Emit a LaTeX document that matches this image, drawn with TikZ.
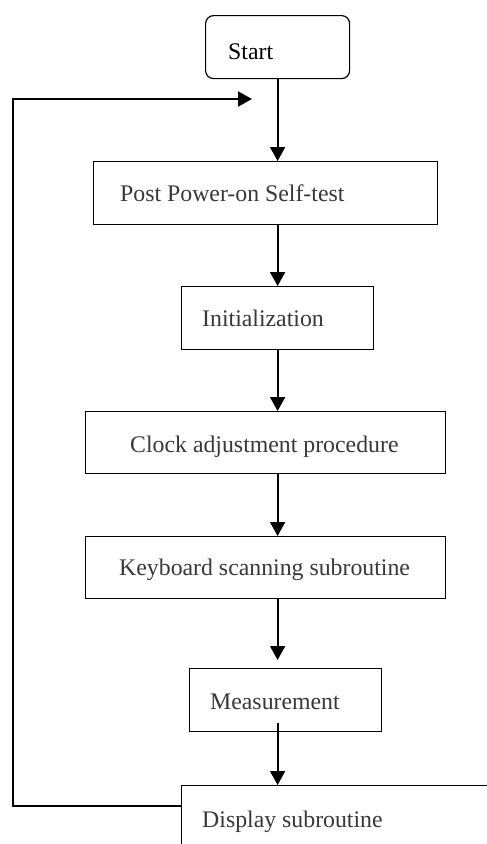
\documentclass[tikz,border=0pt]{standalone}
\usepackage{fontspec}
\setmainfont{Liberation Serif}
\usetikzlibrary{arrows.meta,calc}
\begin{document}
\begin{tikzpicture}[x=1pt,y=-1pt,
  box/.style={draw,line width=1.2pt,inner sep=0pt,anchor=north west},
  lbl/.style={inner sep=0pt,anchor=base west,font=\fontsize{23.8}{26}\selectfont,text=black!78},
  flow/.style={line width=2pt,-{Triangle[width=15pt,length=14pt]}}]
\useasboundingbox (0,0) rectangle (487,844);
\clip (0,0) rectangle (487,844);
% boxes
\node[box,rounded corners=8pt,minimum width=144pt,minimum height=63pt] (start) at (205,15) {};
\node[box,minimum width=344pt,minimum height=63pt] (pp) at (93,161) {};
\node[box,minimum width=192pt,minimum height=63pt] (init) at (181,286) {};
\node[box,minimum width=360pt,minimum height=62pt] (clock) at (85,411) {};
\node[box,minimum width=360pt,minimum height=62pt] (kb) at (85,536) {};
\node[box,minimum width=192pt,minimum height=63pt] (meas) at (189,668) {};
\node[box,minimum width=400pt,minimum height=120pt] (disp) at (181,785) {};
% labels
\node[lbl,text=black] (tstart) at (228,59) {Start};
\node[lbl] (tpp) at (120,201) {Post Power-on Self-test};
\node[lbl] (tinit) at (202,326) {Initialization};
\node[lbl] (tclock) at (130,452) {Clock adjustment procedure};
\node[lbl] (tkb) at (119,575) {Keyboard scanning subroutine};
\node[lbl] (tmeas) at (210,709) {Measurement};
\node[lbl] (tdisp) at (202,827) {Display subroutine};
% connectors
\draw[flow] (start.south) -- (pp.north -| start.south);
\draw[flow] (pp.south -| start.south) -- (init.north);
\draw[flow] (init.south) -- (clock.north -| init.south);
\draw[flow] (clock.south -| init.south) -- (kb.north -| init.south);
\draw[flow,shorten >=8pt] (kb.south -| init.south) -- (meas.north -| init.south);
\draw[flow,shorten <=-9pt] (meas.south -| init.south) -- (disp.north -| init.south);
\coordinate (fbout) at (181,806);
\coordinate (fbin) at (252,99);
\draw[flow] (fbout) -- ++(-168,0) |- (fbin);
\end{tikzpicture}
\end{document}
